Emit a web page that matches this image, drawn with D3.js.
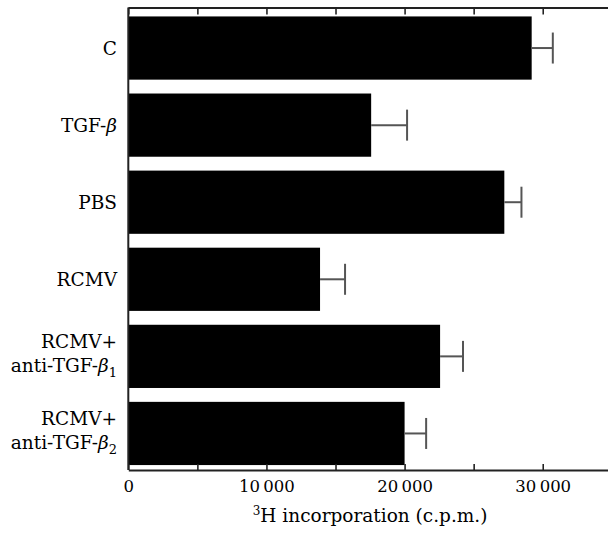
<html>
<head>
<title>3H incorporation</title>
<script src="https://d3js.org/d3.v7.min.js" charset="utf-8"></script>
<style>
body { margin: 0; background: white; font-family: "DejaVu Serif", "Liberation Serif", serif; }
.axis path, .axis line { stroke: #222; }
</style>
</head>
<body>
<script>
// groups, top to bottom (each entry = lines of the label)
var categories = [["C"], ["TGF-β"], ["PBS"], ["RCMV"], ["RCMV+", "anti-TGF-β1"], ["RCMV+", "anti-TGF-β2"]];
// mean 3H incorporation (c.p.m.) and error (one side)
var values = [29200, 17580, 27220, 13880, 22570, 20000];
var errors = [1530, 2600, 1240, 1810, 1660, 1560];
var tickVals = [0, 5000, 10000, 15000, 20000, 25000, 30000, 35000];
var tickLabels = {0: "0", 10000: "10\u2009000", 20000: "20\u2009000", 30000: "30\u2009000"};

var width = 608, height = 535;
var plotLeft = 128.3, plotRight = 611.8, plotTop = 7.5, plotBottom = 470;

var svg = d3.select("body").append("svg")
	.attr("width", width)
	.attr("height", height);

var x = d3.scaleLinear().domain([0, 35000]).range([plotLeft, plotRight]);
var y = d3.scaleBand().domain(d3.range(categories.length))
	.range([plotTop + 2, plotBottom + 2]).paddingInner(0.18).paddingOuter(0.09);

// bars
svg.append("g").selectAll("rect")
	.data(values)
	.enter().append("rect")
	.attr("x", x(0))
	.attr("y", function(d, i) { return y(i); })
	.attr("width", function(d) { return x(d) - x(0); })
	.attr("height", y.bandwidth())
	.attr("fill", "#000");

// error bars
var eb = svg.append("g").attr("stroke", "#555").attr("stroke-width", 2);
values.forEach(function(v, i) {
	var cy = y(i) + y.bandwidth() / 2;
	eb.append("line").attr("x1", x(v)).attr("x2", x(v + errors[i])).attr("y1", cy).attr("y2", cy);
	eb.append("line").attr("x1", x(v + errors[i])).attr("x2", x(v + errors[i])).attr("y1", cy - 15.5).attr("y2", cy + 15.5);
});

// top axis, ticks pointing in
svg.append("g").attr("class", "axis")
	.attr("transform", "translate(0," + plotTop + ")")
	.call(d3.axisTop(x).tickValues(tickVals).tickSizeInner(-7).tickSizeOuter(0).tickFormat(""))
	.call(function(g) { g.select(".domain").attr("stroke-width", 2); g.selectAll(".tick line").attr("stroke-width", 1.6).attr("stroke", "#444"); });

// bottom axis
svg.append("g").attr("class", "axis")
	.attr("transform", "translate(0," + plotBottom + ")")
	.call(d3.axisBottom(x).tickValues(tickVals).tickSizeInner(-6).tickSizeOuter(0).tickPadding(10.5)
		.tickFormat(function(d) { return tickLabels[d] || ""; }))
	.call(function(g) {
		g.select(".domain").attr("stroke-width", 2);
		g.selectAll(".tick line").attr("stroke-width", 1.6).attr("stroke", "#444");
		g.selectAll("text").attr("font-family", "DejaVu Serif").attr("font-size", 16.5).attr("fill", "#000");
	});

// left axis line
svg.append("line").attr("x1", plotLeft).attr("x2", plotLeft).attr("y1", plotTop).attr("y2", plotBottom)
	.attr("stroke", "#222").attr("stroke-width", 2);

// category labels
function addLine(t, str) {
	var k = str.indexOf("β");
	if (k < 0) { t.append("tspan").text(str); return; }
	t.append("tspan").text(str.slice(0, k));
	t.append("tspan").attr("font-style", "italic").text("β");
	var sub = str.slice(k + 1);
	if (sub) t.append("tspan").attr("font-size", 13).attr("dy", 5).text(sub);
}
categories.forEach(function(lines, i) {
	var cy = y(i) + y.bandwidth() / 2;
	var base = lines.length == 1 ? [cy + 6.5] : [cy - 8, cy + 16];
	lines.forEach(function(str, j) {
		var t = svg.append("text")
			.attr("x", 117).attr("y", base[j])
			.attr("text-anchor", "end")
			.attr("font-size", 18.5)
			.attr("fill", "#000");
		addLine(t, str);
	});
});

// x axis title
var xt = svg.append("text")
	.attr("x", (plotLeft + plotRight) / 2).attr("y", 522)
	.attr("text-anchor", "middle")
	.attr("font-size", 18.5)
	.attr("fill", "#000");
xt.append("tspan").attr("font-size", 12).attr("dy", -7).text("3");
xt.append("tspan").attr("dy", 7).text("H incorporation (c.p.m.)");
</script>
</body>
</html>
